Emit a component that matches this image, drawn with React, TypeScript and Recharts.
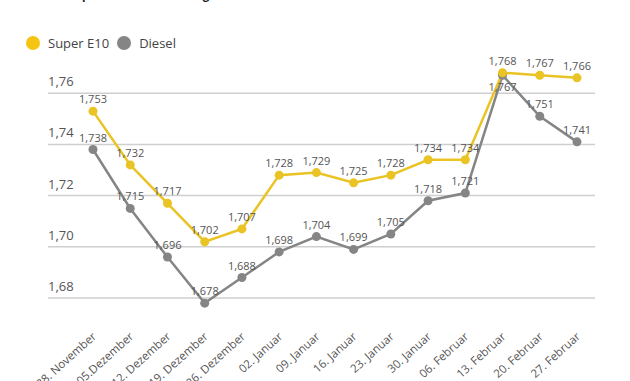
import React from 'react';
import { LineChart, Line, XAxis, YAxis, CartesianGrid, LabelList } from 'recharts';

const categories = ['28. November', '05.Dezember', '12. Dezember', '19. Dezember', '26. Dezember', '02. Januar', '09. Januar', '16. Januar', '23. Januar', '30. Januar', '06. Februar', '13. Februar', '20. Februar', '27. Februar'];
const superE10 = [1.753, 1.732, 1.717, 1.702, 1.707, 1.728, 1.729, 1.725, 1.728, 1.734, 1.734, 1.768, 1.767, 1.766];
const diesel = [1.738, 1.715, 1.696, 1.678, 1.688, 1.698, 1.704, 1.699, 1.705, 1.718, 1.721, 1.767, 1.751, 1.741];
const yTicks = [1.68, 1.70, 1.72, 1.74, 1.76];
const seriesNames = ['Super E10', 'Diesel'];

const data = categories.map((c, i) => ({ name: c, e10: superE10[i], diesel: diesel[i] }));

const YELLOW = '#EAC324';
const YELLOW_LEGEND = '#F6C412';
const GREY = '#858585';
const FONT = '"Open Sans", sans-serif';

const fmt = (v: number, d: number) => v.toFixed(d).replace('.', ',');

const YTick = (props: any) => {
  const { y, payload } = props;
  return (
    <text x={48} y={y - 7} fontSize={13} fill="#555" fontFamily={FONT}>
      {fmt(payload.value, 2)}
    </text>
  );
};

const XTick = (props: any) => {
  const { x, y, payload } = props;
  const tx = x + 4;
  const ty = y + 11;
  return (
    <text x={tx} y={ty} transform={`rotate(-42, ${tx}, ${ty})`} textAnchor="end" fontSize={11.5} fill="#555" fontFamily={FONT}>
      {payload.value}
    </text>
  );
};

const makeLabel = (belowIndex: number) => (props: any) => {
  const { x, y, value, index } = props;
  const below = index === belowIndex;
  return (
    <text x={x} y={below ? y + 16 : y - 8} textAnchor="middle" fontSize={11} fill="#555" fontFamily={FONT}>
      {fmt(value, 3)}
    </text>
  );
};

const LegendBlock = () => {
  const colors = [YELLOW_LEGEND, GREY];
  return (
    <div style={{ position: 'absolute', top: 34, left: 26, display: 'flex', alignItems: 'center', fontFamily: FONT, fontSize: 13, color: '#444', lineHeight: '18px' }}>
      {seriesNames.map((n, i) => (
        <div key={n} style={{ display: 'flex', alignItems: 'center', marginRight: 8 }}>
          <span style={{ width: 14, height: 14, borderRadius: 7, background: colors[i], display: 'inline-block', marginRight: 8 }} />
          <span>{n}</span>
        </div>
      ))}
    </div>
  );
};

const gridGen = (args: any) => {
  const scale = args?.yAxis?.scale;
  if (typeof scale === 'function') return yTicks.map((t) => scale(t));
  if (scale && typeof scale.map === 'function') return yTicks.map((t) => scale.map(t));
  return [];
};

export default function App() {
  return (
    <div style={{ position: 'absolute', top: 0, left: 0, width: 630, height: 381, background: '#fff', overflow: 'hidden' }}>
      <div style={{ position: 'absolute', top: -12, left: 26, fontFamily: FONT, fontWeight: 700, fontSize: 11.5, color: '#222', whiteSpace: 'nowrap', lineHeight: '14px' }}>
        Kraftstoffpreise im Wochenvergleich in Euro/Liter
      </div>
      <LineChart width={630} height={381} data={data} margin={{ top: 42, right: 35, bottom: 0, left: 47 }}>
        <CartesianGrid vertical={false} stroke="#cfcfcf" strokeWidth={1.5} horizontalCoordinatesGenerator={gridGen} />
        <XAxis dataKey="name" interval={0} axisLine={false} tickLine={false} height={62.5} padding={{ left: 45, right: 18 }} tick={<XTick />} />
        <YAxis domain={[1.672, 1.78]} ticks={yTicks} width={1} axisLine={false} tickLine={false} tick={<YTick />} />
        <Line dataKey="diesel" stroke={GREY} strokeWidth={2.5} dot={{ r: 4.5, fill: GREY, stroke: 'none' }} isAnimationActive={false}>
          <LabelList dataKey="diesel" content={makeLabel(11)} />
        </Line>
        <Line dataKey="e10" stroke={YELLOW} strokeWidth={2.5} dot={{ r: 4.5, fill: YELLOW, stroke: 'none' }} isAnimationActive={false}>
          <LabelList dataKey="e10" content={makeLabel(-1)} />
        </Line>
      </LineChart>
      <LegendBlock />
    </div>
  );
}
